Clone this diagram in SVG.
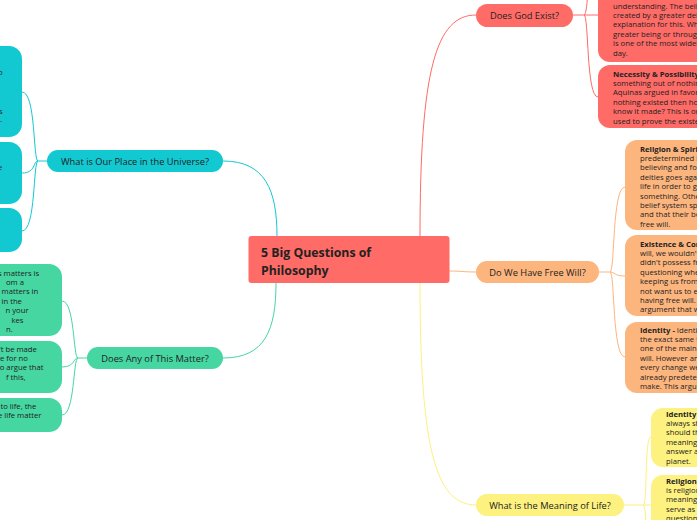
<svg xmlns="http://www.w3.org/2000/svg" width="697" height="520" viewBox="0 0 697 520">
<style>
text{font-family:"Open Sans","Noto Sans","DejaVu Sans",sans-serif;fill:#222}
.pill{font-size:9.3px;text-anchor:middle}
.t{font-size:7.7px}
.b{font-weight:bold}
.c{fill:none;stroke-width:1}
.red{fill:#FF6B66}.ora{fill:#FDB57E}.yel{fill:#FDF17F}.cya{fill:#12C9D2}.gre{fill:#45D6A2}
</style>
<rect width="697" height="520" fill="#ffffff"/>
<g id="connectors">
<path class="c" stroke="#FF6B66" d="M420,236 C420,70 436,15 476,15"/>
<path class="c" stroke="#FDB57E" d="M449,271 C462,271 464,272 476,272"/>
<path class="c" stroke="#FDF17F" d="M420,283 C420,450 436,505 476,505"/>
<path class="c" stroke="#12C9D2" d="M277,236 C277,190 265,161 223,161"/>
<path class="c" stroke="#45D6A2" d="M276,283 C276,330 265,358 223,358"/>
<path class="c" stroke="#FF6B66" d="M573,15 H598 M584,15 C589,15 586,97 598,97 M584,15 C589,15 586,-40 598,-40"/>
<path class="c" stroke="#FDB57E" d="M599,272 H610 C615,272 612,187 625,187 M610,272 C615,272 614,276 625,276 M610,272 C615,272 612,357 625,357"/>
<path class="c" stroke="#FDF17F" d="M624,505 H651 M643,505 C648,505 644,437 651,437 M643,505 C648,505 644,570 651,570"/>
<path class="c" stroke="#12C9D2" d="M47,161 H38 C33,161 36,92 22,92 M38,161 C33,161 36,173 22,173 M38,161 C33,161 36,231 22,231"/>
<path class="c" stroke="#45D6A2" d="M87,358 H78 C73,358 75,301 62,301 M78,358 C73,358 75,367 62,367 M78,358 C73,358 75,415 62,415"/>
</g>
<g id="central">
<rect class="red" x="248.5" y="236" width="201" height="47" rx="3"/>
<text x="261" y="257" font-size="12.3" font-weight="bold">5 Big Questions of</text>
<text x="261" y="275" font-size="12.3" font-weight="bold">Philosophy</text>
</g>
<g id="god">
<rect class="red" x="476" y="4" width="97" height="23" rx="11.5"/>
<text class="pill" x="524.5" y="18.5">Does God Exist?</text>
</g>
<g id="god-1">
<rect class="red" x="598" y="-32" width="120" height="94" rx="12"/>
<text class="t" x="613" y="8.5">understanding. The beli</text>
<text class="t" x="613" y="17.9">created by a greater deit</text>
<text class="t" x="613" y="27.3">explanation for this. Whe</text>
<text class="t" x="613" y="36.7">greater being or through</text>
<text class="t" x="613" y="46.1">is one of the most widely</text>
<text class="t" x="613" y="55.5">day.</text>
</g>
<g id="god-2">
<rect class="red" x="598" y="65" width="120" height="63" rx="12"/>
<text class="t" x="613" y="76.5"><tspan class="b">Necessity &amp; Possibility -</tspan></text>
<text class="t" x="613" y="86">something out of nothing</text>
<text class="t" x="613" y="95.4">Aquinas argued in favor</text>
<text class="t" x="613" y="104.8">nothing existed then how</text>
<text class="t" x="613" y="114.2">know it made? This is on</text>
<text class="t" x="613" y="123.6">used to prove the existen</text>
</g>
<g id="free">
<rect class="ora" x="476" y="261" width="123" height="22" rx="11"/>
<text class="pill" x="537.5" y="275.5">Do We Have Free Will?</text>
</g>
<g id="free-1">
<rect class="ora" x="625" y="140" width="100" height="90" rx="12"/>
<text class="t b" x="640" y="151.5">Religion &amp; Spiritu</text>
<text class="t" x="640" y="161">predetermined b</text>
<text class="t" x="640" y="170.4">believing and foll</text>
<text class="t" x="640" y="179.8">deities goes agai</text>
<text class="t" x="640" y="189.2">life in order to ga</text>
<text class="t" x="640" y="198.6">something. Other</text>
<text class="t" x="640" y="208">belief system spe</text>
<text class="t" x="640" y="217.4">and that their be</text>
<text class="t" x="640" y="226.8">free will.</text>
</g>
<g id="free-2">
<rect class="ora" x="625" y="235" width="100" height="81" rx="12"/>
<text class="t b" x="640" y="246.5">Existence &amp; Cons</text>
<text class="t" x="640" y="256">will, we wouldn't</text>
<text class="t" x="640" y="265.4">didn't possess fre</text>
<text class="t" x="640" y="274.8">questioning whet</text>
<text class="t" x="640" y="284.2">keeping us from</text>
<text class="t" x="640" y="293.6">not want us to ev</text>
<text class="t" x="640" y="303">having free will. T</text>
<text class="t" x="640" y="312.4">argument that w</text>
</g>
<g id="free-3">
<rect class="ora" x="625" y="322" width="100" height="71" rx="12"/>
<text class="t" x="640" y="332.5"><tspan class="b">Identity -</tspan> Identiti</text>
<text class="t" x="640" y="341.9">the exact same th</text>
<text class="t" x="640" y="351.3">one of the main a</text>
<text class="t" x="640" y="360.7">will. However an</text>
<text class="t" x="640" y="370.1">every change we</text>
<text class="t" x="640" y="379.5">already predeten</text>
<text class="t" x="640" y="388.9">make. This argu</text>
</g>
<g id="meaning">
<rect class="yel" x="476" y="494" width="148" height="22" rx="11"/>
<text class="pill" x="550" y="508.5">What is the Meaning of Life?</text>
</g>
<g id="meaning-1">
<rect class="yel" x="651" y="408" width="80" height="59" rx="12"/>
<text class="t b" x="666" y="416.5">Identity -</text>
<text class="t" x="666" y="425.9">always sh</text>
<text class="t" x="666" y="435.3">should th</text>
<text class="t" x="666" y="444.7">meaning</text>
<text class="t" x="666" y="454.1">answer as</text>
<text class="t" x="666" y="463.5">planet.</text>
</g>
<g id="meaning-2">
<rect class="yel" x="651" y="475" width="80" height="70" rx="12"/>
<text class="t b" x="666" y="483.5">Religion -</text>
<text class="t" x="666" y="492.9">is religion</text>
<text class="t" x="666" y="502.3">meaning</text>
<text class="t" x="666" y="511.7">serve as a</text>
<text class="t" x="666" y="521.1">questions</text>
</g>
<g id="place">
<rect class="cya" x="47" y="150" width="176" height="22" rx="11"/>
<text class="pill" x="135" y="164.5">What is Our Place in the Universe?</text>
</g>
<g id="place-1">
<rect class="cya" x="-80" y="46" width="102" height="91" rx="13"/>
<text class="t" x="-2" y="75">o</text>
<text class="t" x="-1" y="113.5">s</text>
<text class="t" x="0" y="122">.</text>
</g>
<g id="place-2">
<rect class="cya" x="-80" y="142" width="102" height="62" rx="13"/>
<text class="t" x="-2" y="170">e</text>
</g>
<g id="place-3">
<rect class="cya" x="-80" y="208" width="102" height="44" rx="13"/>
</g>
<g id="matter">
<rect class="gre" x="87" y="347" width="136" height="22" rx="11"/>
<text class="pill" x="155" y="361.5">Does Any of This Matter?</text>
</g>
<g id="matter-1">
<rect class="gre" x="-60" y="264" width="122" height="72" rx="13"/>
<text class="t" x="-4" y="275.5">is matters is</text>
<text class="t" x="6" y="284.9">om a</text>
<text class="t" x="-5" y="294.3">o matters in</text>
<text class="t" x="1.5" y="303.7">in the</text>
<text class="t" x="5.5" y="313.1">n your</text>
<text class="t" x="11.5" y="322.5">kes</text>
<text class="t" x="6" y="331.9">n.</text>
</g>
<g id="matter-2">
<rect class="gre" x="-60" y="341" width="122" height="52" rx="13"/>
<text class="t" x="-1" y="351.5">'t be made</text>
<text class="t" x="-2" y="360.9">le for no</text>
<text class="t" x="-3" y="370.3">to argue that</text>
<text class="t" x="6" y="379.7">f this,</text>
</g>
<g id="matter-3">
<rect class="gre" x="-60" y="398" width="122" height="34" rx="13"/>
<text class="t" x="0.5" y="408.5">to life, the</text>
<text class="t" x="-2" y="417.9">e life matter</text>
</g>
</svg>
